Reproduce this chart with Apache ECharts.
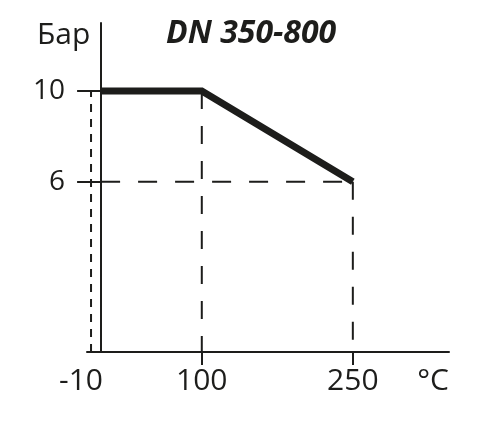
<!DOCTYPE html>
<html>
<head>
<meta charset="utf-8">
<script src="https://cdn.jsdelivr.net/npm/echarts@6/dist/echarts.min.js"></script>
<style>html,body{margin:0;padding:0;background:#fff}#c{width:490px;height:422px}</style>
</head>
<body>
<div id="c"></div>
<script>
// Data
const titleText = 'DN 350-800';
const yUnit = 'Бар';
const xUnit = '°C';
const ratingTemps = [0, 100, 250];       // °C
const ratingPressures = [10, 10, 6];     // bar
const xTickValues = [-10, 100, 250];
const yTickValues = [6, 10];
const minTemp = -10;
const refPressure = 6;

const INK = '#1d1d1b';
const FONT = '"Open Sans", "Noto Sans", sans-serif';

const chart = echarts.init(document.getElementById('c'), null, {renderer: 'canvas'});
const thick = ratingTemps.map((t, i) => [t, ratingPressures[i]]);
const yMin = -1.5;
const dash = (w, d) => ({color: INK, width: w, type: d});

chart.setOption({
  animation: false,
  backgroundColor: '#fff',
  title: [
    {text: titleText, left: 166, top: 18, padding: 0,
     textStyle: {fontFamily: FONT, fontSize: 32, fontWeight: 'bold', fontStyle: 'italic', color: INK}},
    {text: yUnit, left: 37, top: 20, padding: 0,
     textStyle: {fontFamily: FONT, fontSize: 30, fontWeight: 'normal', color: INK}}
  ],
  grid: {left: 87, right: 41, top: 23, bottom: 70, containLabel: false},
  xAxis: {
    type: 'value', min: -14, max: 345.5,
    splitLine: {show: false},
    axisLine: {onZero: false, lineStyle: {color: INK, width: 2}},
    axisTick: {show: true, customValues: [100, 250], length: 13, lineStyle: {color: INK, width: 2}},
    axisLabel: {
      customValues: xTickValues, margin: 14, fontFamily: FONT, fontSize: 30, color: INK,
      formatter: v => v === minTemp ? '{l|' + v + '}' : String(v),
      rich: {l: {fontFamily: FONT, fontSize: 30, color: INK, padding: [0, 20, 0, 0]}}
    },
    name: xUnit, nameLocation: 'end', nameGap: 0,
    nameTextStyle: {fontFamily: FONT, fontSize: 30, color: INK, align: 'right', verticalAlign: 'top', padding: [14, 0, 0, 0]}
  },
  yAxis: {
    type: 'value', min: yMin, max: 13,
    splitLine: {show: false},
    axisLine: {onZero: true, lineStyle: {color: INK, width: 2}},
    axisTick: {show: true, customValues: yTickValues, length: 24, lineStyle: {color: INK, width: 2}},
    axisLabel: {customValues: yTickValues, margin: 22, fontFamily: FONT, fontSize: 28, color: INK}
  },
  series: [
    {type: 'line', data: [[minTemp, yMin], [minTemp, ratingPressures[0]]], symbol: 'none', silent: true,
     lineStyle: dash(2, [8, 7])},
    {type: 'line', data: [[ratingTemps[1], ratingPressures[1]], [ratingTemps[1], yMin]], symbol: 'none', silent: true,
     lineStyle: dash(2, [18, 17])},
    {type: 'line', data: [[ratingTemps[2], ratingPressures[2]], [ratingTemps[2], yMin]], symbol: 'none', silent: true,
     lineStyle: dash(2, [18, 17])},
    {type: 'line', data: [[ratingTemps[0], refPressure], [ratingTemps[2], refPressure]], symbol: 'none', silent: true,
     lineStyle: dash(2, [19, 18])},
    {type: 'line', data: thick, symbol: 'none', silent: true,
     lineStyle: {color: INK, width: 7, join: 'miter', cap: 'butt'}}
  ]
});
</script>
</body>
</html>
